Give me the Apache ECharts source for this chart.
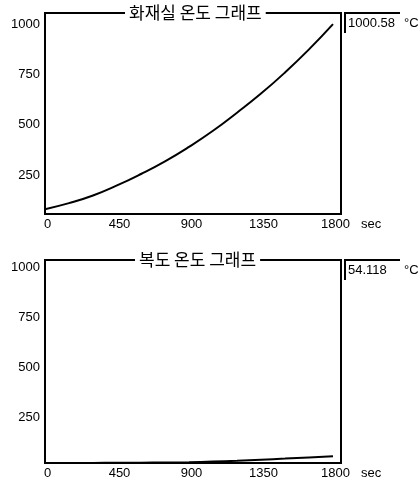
<!DOCTYPE html>
<html><head><meta charset="utf-8">
<script src="https://cdn.jsdelivr.net/npm/echarts@6/dist/echarts.min.js"></script>
<style>html,body{margin:0;padding:0;background:#fff}#c{width:420px;height:486px}</style>
</head><body><div id="c"></div>
<script>
// ---- data ----
const timeSec = [0, 150, 300, 450, 600, 750, 900, 1050, 1200, 1350, 1500, 1650, 1800];
const fireRoomTemp = [80, 110, 148, 198, 255, 318, 390, 470, 560, 655, 760, 875, 1000.58];
const corridorTemp = [20, 20, 20.5, 21, 21.5, 22.5, 24, 27, 31, 36.5, 42, 48, 54.118];
const xTickValues = [0, 450, 900, 1350, 1800];
const yTickValues = [250, 500, 750, 1000];
const chartTitles = ['화재실 온도 그래프', '복도 온도 그래프'];
const xAxisName = 'sec';
const unitText = '°C';

// ---- layout / style ----
const NUM_FONT = 'Liberation Sans, Arial, sans-serif';
const KR_FONT = 'Noto Sans CJK KR, sans-serif';
const panels = [
  { top: 13, height: 201, yMin: 56, yMax: 1056, titleLeft: 125 },
  { top: 260, height: 203, yMin: 20, yMax: 1035, titleLeft: 135 }
];
const seriesValues = [fireRoomTemp, corridorTemp];
const plain = v => String(v);

const grids = [], xAxes = [], yAxes = [], series = [], titles = [], graphics = [];
panels.forEach((p, i) => {
  grids.push({ left: 45, right: 79, top: p.top, height: p.height, show: true,
    borderColor: '#000', borderWidth: 2, backgroundColor: '#fff' });
  xAxes.push({ type: 'value', gridIndex: i, min: 0, max: 1850,
    axisLine: { show: false }, axisTick: { show: false }, splitLine: { show: false },
    axisLabel: { customValues: xTickValues, formatter: plain, margin: 4, fontSize: 13,
      color: '#000', fontFamily: NUM_FONT, padding: [0, 0, 0, 5] },
    name: xAxisName, nameLocation: 'end', nameGap: 20,
    nameTextStyle: { fontSize: 13, color: '#000', fontFamily: NUM_FONT,
      verticalAlign: 'top', padding: [4, 0, 0, 0] } });
  yAxes.push({ type: 'value', gridIndex: i, min: p.yMin, max: p.yMax,
    axisLine: { show: false }, axisTick: { show: false }, splitLine: { show: false },
    axisLabel: { customValues: yTickValues, formatter: plain, margin: 5, fontSize: 13,
      color: '#000', fontFamily: NUM_FONT } });
  series.push({ type: 'line', xAxisIndex: i, yAxisIndex: i, smooth: true,
    showSymbol: false, silent: true,
    lineStyle: { color: '#000', width: 2 },
    data: timeSec.map((t, k) => [t, seriesValues[i][k]]) });
  titles.push({ text: chartTitles[i], left: p.titleLeft, top: p.top - 9,
    padding: [0, 4], backgroundColor: '#fff',
    textStyle: { fontFamily: KR_FONT, fontSize: 17, fontWeight: 'normal',
      color: '#000', lineHeight: 18 } });
  const last = seriesValues[i][seriesValues[i].length - 1];
  const top = p.top;
  graphics.push(
    { type: 'polyline', shape: { points: [[345, top + 20], [345, top], [400, top]] },
      style: { stroke: '#000', lineWidth: 2, fill: null } },
    { type: 'text', x: 348, y: top + 10,
      style: { text: String(last), font: '13px ' + NUM_FONT, fill: '#000',
        verticalAlign: 'middle' } },
    { type: 'text', x: 404, y: top + 10,
      style: { text: unitText, font: '13px ' + NUM_FONT, fill: '#000',
        verticalAlign: 'middle' } }
  );
});

const chart = echarts.init(document.getElementById('c'), null, { renderer: 'canvas' });
chart.setOption({
  animation: false,
  backgroundColor: '#fff',
  title: titles,
  grid: grids,
  xAxis: xAxes,
  yAxis: yAxes,
  series: series,
  graphic: graphics
});
</script>
</body></html>
